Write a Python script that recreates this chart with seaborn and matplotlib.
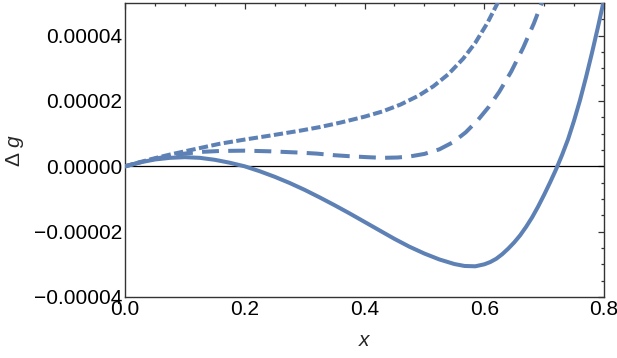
import matplotlib
matplotlib.use("Agg")
import matplotlib.pyplot as plt
import matplotlib.ticker as mticker
import numpy as np
import pandas as pd
import seaborn as sns

# ---- data (Δg in units of 1e-6) ----
solid_x = [0.0, 0.025, 0.05, 0.075, 0.1, 0.125, 0.15, 0.175, 0.2, 0.225, 0.25, 0.275,
           0.3, 0.325, 0.35, 0.375, 0.4, 0.425, 0.45, 0.475, 0.5, 0.525, 0.55, 0.567,
           0.585, 0.6, 0.61, 0.62, 0.63, 0.64, 0.65, 0.66, 0.67, 0.68, 0.69, 0.7,
           0.71, 0.72, 0.73, 0.74, 0.75, 0.76, 0.77, 0.78, 0.79, 0.8]
solid_y = [0.0, 1.2, 2.1, 2.6, 2.8, 2.6, 2.0, 1.1, 0.0, -1.5, -3.2, -5.1,
           -7.2, -9.5, -11.9, -14.4, -17.0, -19.6, -22.2, -24.6, -26.7, -28.5, -29.9, -30.5,
           -30.6, -30.0, -29.3, -28.3, -26.9, -25.2, -23.3, -21.1, -18.5, -15.6, -12.3, -8.7,
           -4.9, -0.9, 3.5, 8.3, 14.0, 20.3, 27.3, 34.8, 42.7, 51.0]

long_x = [0.0, 0.025, 0.05, 0.075, 0.1, 0.125, 0.158, 0.2, 0.242, 0.292, 0.32, 0.35,
          0.375, 0.405, 0.43, 0.455, 0.475, 0.5, 0.525, 0.548, 0.569, 0.59, 0.608,
          0.625, 0.645, 0.665, 0.683, 0.697]
long_y = [0.0, 1.2, 2.3, 3.2, 3.9, 4.4, 4.7, 4.8, 4.6, 4.2, 3.9, 3.4,
          3.1, 2.8, 2.6, 2.7, 3.0, 3.8, 5.2, 7.4, 10.4, 14.3, 18.3,
          22.8, 29.0, 36.3, 43.8, 50.5]

short_x = [0.0, 0.025, 0.05, 0.075, 0.1, 0.158, 0.2, 0.242, 0.292, 0.325, 0.36,
           0.4, 0.43, 0.46, 0.49, 0.515, 0.54, 0.565, 0.585, 0.605, 0.621, 0.625]
short_y = [0.0, 1.3, 2.5, 3.6, 4.6, 6.9, 8.2, 9.4, 10.9, 12.0, 13.4,
           15.2, 16.8, 18.9, 21.6, 24.5, 28.2, 33.0, 37.8, 43.8, 49.5, 51.2]

x_ticks = [0.0, 0.2, 0.4, 0.6, 0.8]
x_tick_labels = ["0.0", "0.2", "0.4", "0.6", "0.8"]
y_ticks = [-0.00004, -0.00002, 0.0, 0.00002, 0.00004]
y_tick_labels = ["\u22120.00004", "\u22120.00002", "0.00000", "0.00002", "0.00004"]

# ---- build table ----
df = pd.concat([
    pd.DataFrame({"x": solid_x, "g": np.array(solid_y) * 1e-6, "curve": "solid"}),
    pd.DataFrame({"x": long_x, "g": np.array(long_y) * 1e-6, "curve": "long"}),
    pd.DataFrame({"x": short_x, "g": np.array(short_y) * 1e-6, "curve": "short"}),
], ignore_index=True)

sns.set_style("white")
plt.rcParams["font.family"] = ["Liberation Sans", "DejaVu Sans"]
plt.rcParams["mathtext.fontset"] = "custom"
plt.rcParams["mathtext.rm"] = "Liberation Sans"
plt.rcParams["mathtext.it"] = "Liberation Sans:italic"

color = "#5E81B5"
fig = plt.figure(figsize=(6.17, 3.58), dpi=100)
ax = fig.add_axes([125 / 617, 1 - 297 / 358, (604 - 125) / 617, (297 - 3) / 358])

ax.axhline(0, color="black", lw=0.9, zorder=1)

sns.lineplot(data=df, x="x", y="g", style="curve",
             dashes={"solid": "", "long": (4.2, 2.3), "short": (2.3, 0.85)},
             color=color, lw=2.9, sort=False, estimator=None, legend=False,
             ax=ax, zorder=3)

ax.set_xlim(0, 0.8)
ax.set_ylim(-0.00004, 0.00005)
ax.set_xticks(x_ticks)
ax.set_xticklabels(x_tick_labels)
ax.set_yticks(y_ticks)
ax.set_yticklabels(y_tick_labels)
ax.xaxis.set_minor_locator(mticker.MultipleLocator(0.05))
ax.yaxis.set_minor_locator(mticker.MultipleLocator(0.000005))

ax.tick_params(which="both", direction="in", top=True, right=True,
               colors="#333333", labelcolor="black", width=0.9)
ax.tick_params(which="major", length=4.5, labelsize=15, pad=2)
ax.tick_params(which="minor", length=2.5)

for s in ax.spines.values():
    s.set_color("#333333")
    s.set_linewidth(1.0)

ax.set_xlabel("$x$", fontsize=15, labelpad=9)
ax.set_ylabel(r"$\Delta\ g$", fontsize=15, labelpad=6)

fig.savefig("out.png", dpi=100)
